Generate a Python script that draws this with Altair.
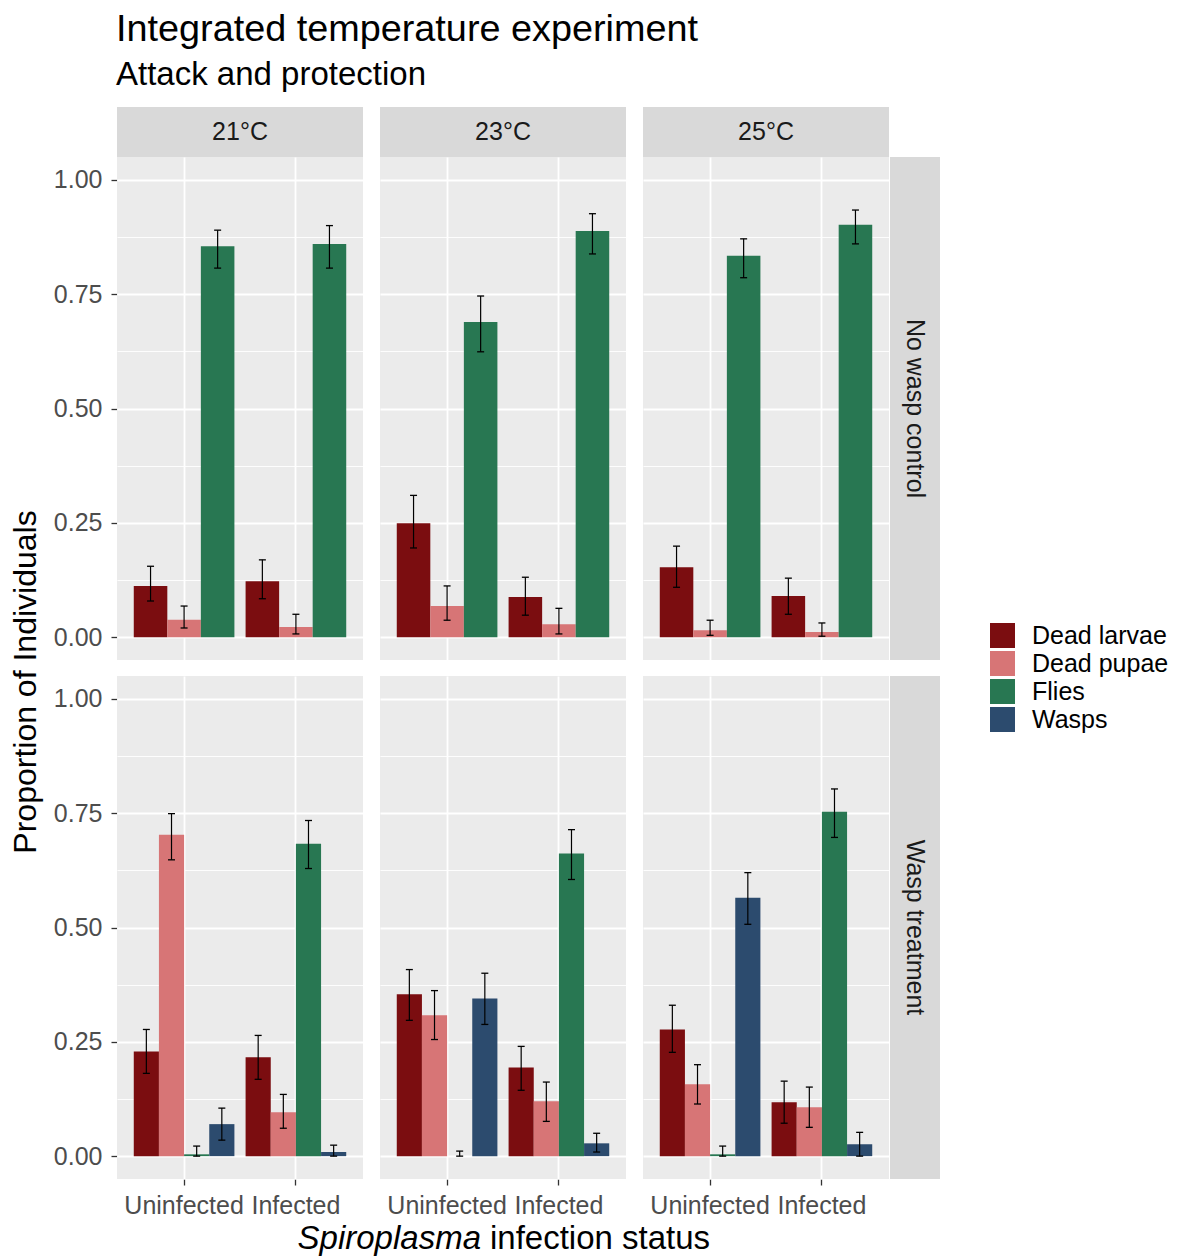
import altair as alt
import pandas as pd

FONT = "Liberation Sans"

temps = ["21°C", "23°C", "25°C"]
treatments = ["No wasp control", "Wasp treatment"]
statuses = ["Uninfected", "Infected"]
outcomes = ["Dead larvae", "Dead pupae", "Flies", "Wasps"]
colors = ["#7B0D10", "#D77576", "#287752", "#2C4B6E"]

# No wasp control: one row per temperature; columns Dead larvae, Dead pupae, Flies
ctrl_uninf_mean = [[0.112, 0.038, 0.855], [0.249, 0.068, 0.689], [0.153, 0.015, 0.834]]
ctrl_uninf_lo = [[0.079, 0.020, 0.807], [0.195, 0.037, 0.624], [0.109, 0.004, 0.786]]
ctrl_uninf_hi = [[0.155, 0.068, 0.890], [0.310, 0.112, 0.746], [0.199, 0.037, 0.871]]
ctrl_inf_mean = [[0.122, 0.022, 0.860], [0.088, 0.028, 0.888], [0.090, 0.011, 0.902]]
ctrl_inf_lo = [[0.084, 0.007, 0.807], [0.048, 0.007, 0.838], [0.050, 0.002, 0.860]]
ctrl_inf_hi = [[0.169, 0.050, 0.900], [0.131, 0.063, 0.926], [0.129, 0.031, 0.934]]

# Wasp treatment: one row per temperature; columns Dead larvae, Dead pupae, Flies, Wasps
wasp_uninf_mean = [[0.229, 0.703, 0.004, 0.070], [0.354, 0.308, 0.000, 0.345], [0.277, 0.157, 0.004, 0.565]]
wasp_uninf_lo = [[0.181, 0.648, 0.000, 0.035], [0.297, 0.255, 0.000, 0.288], [0.227, 0.114, 0.000, 0.507]]
wasp_uninf_hi = [[0.277, 0.749, 0.022, 0.105], [0.408, 0.362, 0.011, 0.400], [0.330, 0.200, 0.022, 0.620]]
wasp_inf_mean = [[0.216, 0.096, 0.683, 0.009], [0.194, 0.120, 0.662, 0.028], [0.118, 0.107, 0.753, 0.026]]
wasp_inf_lo = [[0.168, 0.061, 0.629, 0.000], [0.144, 0.076, 0.605, 0.009], [0.072, 0.063, 0.697, 0.000]]
wasp_inf_hi = [[0.264, 0.135, 0.734, 0.024], [0.240, 0.162, 0.714, 0.050], [0.164, 0.151, 0.803, 0.052]]

rows = []
blocks = [
    (treatments[0], statuses[0], ctrl_uninf_mean, ctrl_uninf_lo, ctrl_uninf_hi),
    (treatments[0], statuses[1], ctrl_inf_mean, ctrl_inf_lo, ctrl_inf_hi),
    (treatments[1], statuses[0], wasp_uninf_mean, wasp_uninf_lo, wasp_uninf_hi),
    (treatments[1], statuses[1], wasp_inf_mean, wasp_inf_lo, wasp_inf_hi),
]
for trt, st, mean, lo, hi in blocks:
    for ti, t in enumerate(temps):
        for oi in range(len(mean[ti])):
            rows.append({"treatment": trt, "temp": t, "status": st,
                         "outcome": outcomes[oi], "prop": mean[ti][oi],
                         "lo": lo[ti][oi], "hi": hi[ti][oi]})
df = pd.DataFrame(rows)

W, H = 246, 503
minor_test = "datum.value % 0.25 != 0"

x_enc = alt.X("status:N", sort=statuses,
              scale=alt.Scale(paddingInner=0.1, paddingOuter=0.15),
              axis=alt.Axis(title=None, labelAngle=0, bandPosition=0.5, grid=True,
                            gridColor="white", gridWidth=1.8, domain=False,
                            tickColor="#333333", tickWidth=1.3, tickSize=6,
                            labelColor="#4D4D4D", labelFontSize=25, labelFont=FONT,
                            labelPadding=8))
xo_enc = alt.XOffset("outcome:N", sort=outcomes,
                     scale=alt.Scale(paddingInner=0, paddingOuter=0))
y_scale = alt.Scale(domain=[-0.05, 1.05], nice=False, zero=False)
y_axis = alt.Axis(title=None,
                  values=[0, 0.125, 0.25, 0.375, 0.5, 0.625, 0.75, 0.875, 1.0],
                  labelExpr="datum.value % 0.25 == 0 ? format(datum.value, '.2f') : ''",
                  grid=True, gridColor="white",
                  gridWidth={"condition": {"test": minor_test, "value": 0.9}, "value": 1.8},
                  tickOpacity={"condition": {"test": minor_test, "value": 0}, "value": 1},
                  domain=False, tickColor="#333333", tickWidth=1.3, tickSize=6,
                  labelColor="#4D4D4D", labelFontSize=25, labelFont=FONT, labelPadding=9)

bars = alt.Chart().mark_bar().encode(
    x=x_enc, xOffset=xo_enc,
    y=alt.Y("prop:Q", scale=y_scale, axis=y_axis),
    y2=alt.datum(0),
    color=alt.Color("outcome:N", sort=outcomes,
                    scale=alt.Scale(domain=outcomes, range=colors),
                    legend=alt.Legend(title=None, orient="none", legendX=873, legendY=466,
                                      symbolType="square", symbolSize=625,
                                      symbolStrokeWidth=0, labelFontSize=25,
                                      labelFont=FONT, labelColor="black",
                                      labelOffset=17, rowPadding=2, labelLimit=300)),
)
rules = alt.Chart().mark_rule(color="black", strokeWidth=1.2).encode(
    x=x_enc, xOffset=xo_enc, y=alt.Y("lo:Q", scale=y_scale, axis=y_axis), y2="hi:Q")
tick_lo = alt.Chart().mark_tick(color="black", thickness=1.3, size=7, orient="horizontal",
                                opacity=1).encode(
    x=x_enc, xOffset=xo_enc, y=alt.Y("lo:Q", scale=y_scale, axis=y_axis))
tick_hi = alt.Chart().mark_tick(color="black", thickness=1.3, size=7, orient="horizontal",
                                opacity=1).encode(
    x=x_enc, xOffset=xo_enc, y=alt.Y("hi:Q", scale=y_scale, axis=y_axis))

# strips (panel labels)
top_cells = alt.Chart().transform_filter(alt.datum.treatment == treatments[0]).transform_aggregate(
    n="count()", groupby=["temp", "treatment"])
strip_rect = top_cells.mark_rect(color="#D9D9D9").encode(
    x=alt.value(0), x2=alt.value(W), y=alt.value(-50), y2=alt.value(0))
strip_text = top_cells.mark_text(fontSize=25, color="#1A1A1A", font=FONT, baseline="middle").encode(
    text="temp:N", x=alt.value(W / 2), y=alt.value(-25))

right_cells = alt.Chart().transform_filter(alt.datum.temp == temps[2]).transform_aggregate(
    n="count()", groupby=["temp", "treatment"])
rstrip_rect = right_cells.mark_rect(color="#D9D9D9").encode(
    x=alt.value(W + 1), x2=alt.value(W + 51), y=alt.value(0), y2=alt.value(H))
rstrip_text = right_cells.mark_text(fontSize=25, color="#1A1A1A", font=FONT, angle=90,
                                    baseline="middle", align="center").encode(
    text="treatment:N", x=alt.value(W + 26), y=alt.value(H / 2))

# x-axis title (mixed italic / normal)
mid_cell = alt.Chart().transform_filter(
    (alt.datum.temp == temps[1]) & (alt.datum.treatment == treatments[1])).transform_aggregate(
    n="count()", groupby=["temp", "treatment"])
xt1 = mid_cell.mark_text(text="Spiroplasma", fontStyle="italic", fontSize=33, font=FONT,
                         align="right", baseline="alphabetic", color="black").encode(
    x=alt.value(101), y=alt.value(H + 70))
xt2 = mid_cell.mark_text(text="infection status", fontSize=33, font=FONT,
                         align="left", baseline="alphabetic", color="black").encode(
    x=alt.value(110), y=alt.value(H + 70))

layered = alt.layer(strip_rect, strip_text, rstrip_rect, rstrip_text,
                    bars, rules, tick_lo, tick_hi, xt1, xt2, data=df).properties(width=W, height=H)

chart = layered.facet(
    row=alt.Row("treatment:N", sort=treatments, title="Proportion of Individuals",
                header=alt.Header(labels=False, titleFontSize=32, titleColor="black",
                                  titleFont=FONT, titleFontWeight="normal",
                                  titlePadding=0)),
    column=alt.Column("temp:N", sort=temps, title=None, header=alt.Header(labels=False)),
    spacing={"row": 16, "column": 17},
    bounds="flush",
).resolve_scale(xOffset="independent").properties(
    title=alt.TitleParams(text="Integrated temperature experiment",
                          subtitle="Attack and protection", anchor="start",
                          fontSize=37.8, subtitleFontSize=33, font=FONT, subtitleFont=FONT,
                          fontWeight="normal", color="black", subtitleColor="black",
                          subtitlePadding=10, offset=15, dx=106),
    padding={"left": 1, "right": 0, "top": 3, "bottom": 0},
).configure(font=FONT).configure_view(fill="#EBEBEB", stroke=None)

chart.save("out.html", embed_options={"renderer": "svg", "actions": False})
